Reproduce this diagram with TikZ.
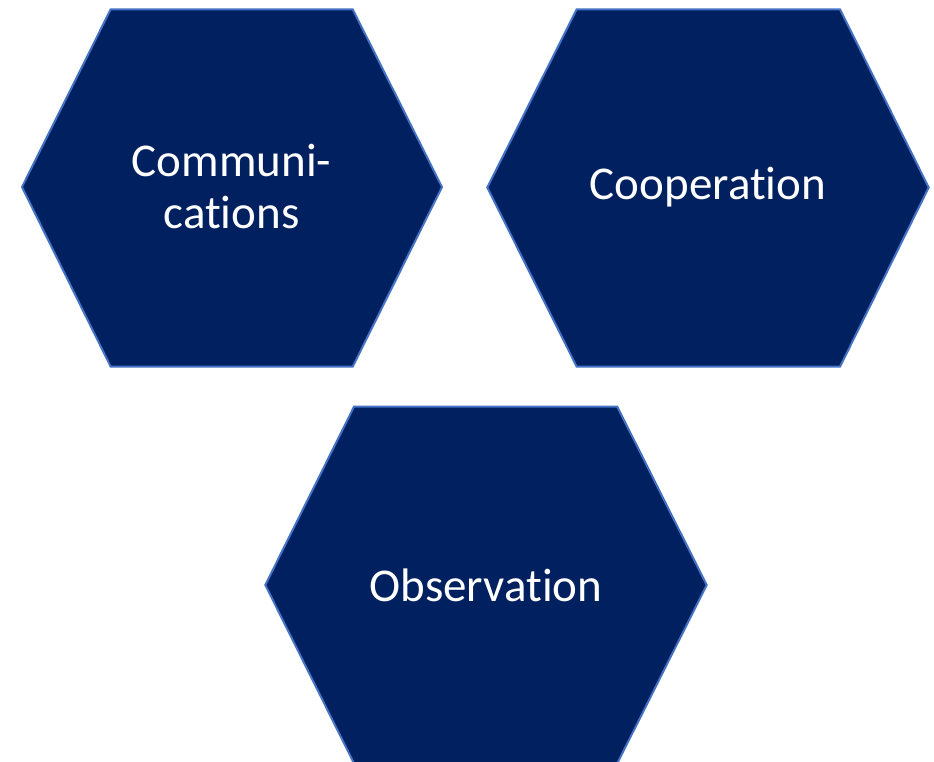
\documentclass[tikz,border=0pt]{standalone}
\usepackage{fontspec}
\setmainfont[Ligatures={NoCommon},RawFeature={-liga}]{Carlito}
\definecolor{hexfill}{HTML}{002060}
\definecolor{hexline}{HTML}{4472C4}
\begin{document}
\begin{tikzpicture}[x=1pt,y=-1pt,
  hexa/.style={fill=hexfill,draw=hexline,line width=2pt,line join=miter},
  lbl/.style={text=white,font=\fontsize{47}{52}\selectfont,align=center,inner sep=0pt}]
\useasboundingbox (0,0) rectangle (934,762);
\clip (0,0) rectangle (934,762);
% left hexagon
\draw[hexa] (22,187) -- (110.7,9.3) -- (352.7,9.3) -- (442,187) -- (352.7,366.7) -- (110.7,366.7) -- cycle;
\node[lbl] (comm) at (231.5,187) {Communi-\\cations};
% right hexagon
\draw[hexa] (487.3,187.5) -- (576.7,9.3) -- (840,9.3) -- (928.7,187.5) -- (840,366.7) -- (576.7,366.7) -- cycle;
\node[lbl] (coop) at (708,187.5) {Cooperation};
% bottom hexagon
\draw[hexa] (265.3,585) -- (354,406.7) -- (617.3,406.7) -- (706.7,585) -- (617.3,763.3) -- (354,763.3) -- cycle;
\node[lbl] (obs) at (486,585) {Observation};
\end{tikzpicture}
\end{document}
